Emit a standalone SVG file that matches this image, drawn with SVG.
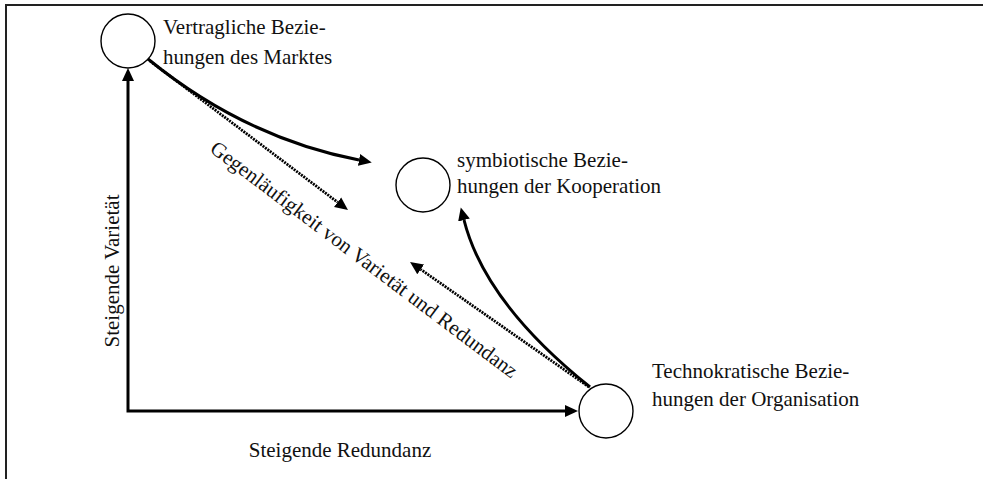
<svg xmlns="http://www.w3.org/2000/svg" width="983" height="479" viewBox="0 0 983 479">
  <defs>
    <marker id="head" viewBox="0 -7 14 14" refX="0" refY="0" markerUnits="userSpaceOnUse" markerWidth="14" markerHeight="14" orient="auto-start-reverse">
      <path d="M0,-6 L13,0 L0,6 z" fill="#000"/>
    </marker>
    <style>
      .frame { stroke: #222; stroke-width: 2; fill: none; }
      .node { fill: #fff; stroke: #000; stroke-width: 1.4; }
      .lbl { font-family: "Liberation Serif", "Times New Roman", serif; font-size: 21px; fill: #111; }
      .solid { fill: none; stroke: #000; stroke-width: 3; }
      .dotted { fill: none; stroke: #000; stroke-width: 2.8; stroke-dasharray: 2 1; }
    </style>
  </defs>

  <rect width="983" height="479" fill="#fff"/>
  <!-- frame: top and left edges -->
  <path class="frame" d="M6,479 V5 H983"/>

  <!-- connectors -->
  <g id="connectors">
    <path id="axes" class="solid" d="M128,81 V411 H565" marker-start="url(#head)" marker-end="url(#head)"/>
    <path id="markt-koop" class="solid" d="M148,59 Q245,138 359,160" marker-end="url(#head)"/>
    <path id="markt-diag" class="dotted" d="M150,61 L337.6,202.2" marker-end="url(#head)"/>
    <path id="org-diag" class="dotted" d="M589,387 L420.7,269.4" marker-end="url(#head)"/>
    <path id="org-koop" class="solid" d="M590,387 Q485,303 464,220" marker-end="url(#head)"/>
  </g>

  <!-- nodes -->
  <g id="markt">
    <circle class="node" cx="128" cy="41" r="27"/>
    <text class="lbl" x="163" y="34">Vertragliche Bezie-</text>
    <text class="lbl" x="163" y="64">hungen des Marktes</text>
  </g>
  <g id="kooperation">
    <circle class="node" cx="423" cy="185" r="27"/>
    <text class="lbl" x="457" y="167">symbiotische Bezie-</text>
    <text class="lbl" x="457" y="193">hungen der Kooperation</text>
  </g>
  <g id="organisation">
    <circle class="node" cx="606" cy="411" r="27"/>
    <text class="lbl" x="652" y="378">Technokratische Bezie-</text>
    <text class="lbl" x="652" y="406">hungen der Organisation</text>
  </g>

  <!-- axis and diagonal labels -->
  <g id="labels">
    <text class="lbl" transform="translate(119,271) rotate(-90)" text-anchor="middle">Steigende Varietät</text>
    <text class="lbl" x="340" y="457" text-anchor="middle">Steigende Redundanz</text>
    <text class="lbl" transform="translate(360,265) rotate(37)" text-anchor="middle" font-size="22.5">Gegenläufigkeit von Varietät und Redundanz</text>
  </g>
</svg>
